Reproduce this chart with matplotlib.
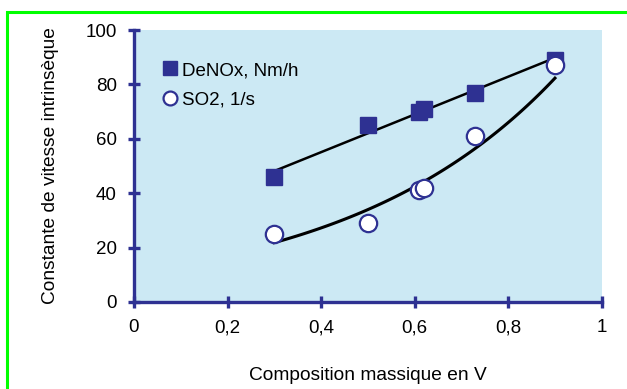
import numpy as np
import matplotlib
matplotlib.use("Agg")
import matplotlib.pyplot as plt
from matplotlib.patches import Rectangle

plt.rcParams['font.family'] = ['Liberation Sans', 'DejaVu Sans']

comp_v = [0.30, 0.50, 0.61, 0.62, 0.73, 0.90]
denox = [46, 65, 70, 71, 77, 89]
so2 = [25, 29, 41, 42, 61, 87]

x_ticks = [0, 0.2, 0.4, 0.6, 0.8, 1]
x_labels = ["0", "0,2", "0,4", "0,6", "0,8", "1"]
y_ticks = [0, 20, 40, 60, 80, 100]

NAVY = "#2e3192"
BG = "#cce9f4"


def main():
    fig = plt.figure(figsize=(6.27, 3.89), dpi=100)
    ax = fig.add_axes([0.2137, 0.2237, 0.746, 0.699])
    ax.set_facecolor(BG)

    # trend lines (linear for DeNOx, exponential for SO2)
    xs = np.linspace(min(comp_v), max(comp_v), 100)
    a, b = np.polyfit(comp_v, denox, 1)
    ax.plot(xs, a * xs + b, color="black", lw=1.8, zorder=2)
    c, d = np.polyfit(comp_v, np.log(so2), 1)
    ax.plot(xs, np.exp(d) * np.exp(c * xs), color="black", lw=2.2, zorder=2)

    ax.plot(comp_v, denox, "s", ms=12, color=NAVY, mec=NAVY,
            label="DeNOx, Nm/h", zorder=3)
    ax.plot(comp_v, so2, "o", ms=12.5, mfc="white", mec=NAVY, mew=1.6,
            label="SO2, 1/s", zorder=4)

    ax.set_xlim(0, 1)
    ax.set_ylim(0, 100)
    ax.set_xticks(x_ticks)
    ax.set_xticklabels(x_labels)
    ax.set_yticks(y_ticks)
    for s in ["top", "right"]:
        ax.spines[s].set_visible(False)
    for s in ["left", "bottom"]:
        ax.spines[s].set_color(NAVY)
        ax.spines[s].set_linewidth(2.4)
    ax.tick_params(direction="inout", length=9, width=2.4, color=NAVY,
                   labelsize=13.5, pad=8)
    for sp in ax.spines.values():
        sp.set_clip_on(False)

    ax.set_xlabel("Composition massique en V", fontsize=13.8, labelpad=22)
    ax.set_ylabel("Constante de vitesse intrinsèque", fontsize=13.8, labelpad=19)

    ax.legend(loc="upper left", bbox_to_anchor=(0.015, 0.945),
              frameon=False, fontsize=13.5, handletextpad=0.0,
              handlelength=1.3, labelspacing=0.68, markerscale=0.8)

    # green frame around the figure
    fig.add_artist(Rectangle((0.011, -0.1), 1.2, 1.068, transform=fig.transFigure,
                             fill=False, edgecolor="#00ff00", lw=2.2,
                             clip_on=False))

    fig.savefig("out.png", dpi=100)


if __name__ == "__main__":
    main()
